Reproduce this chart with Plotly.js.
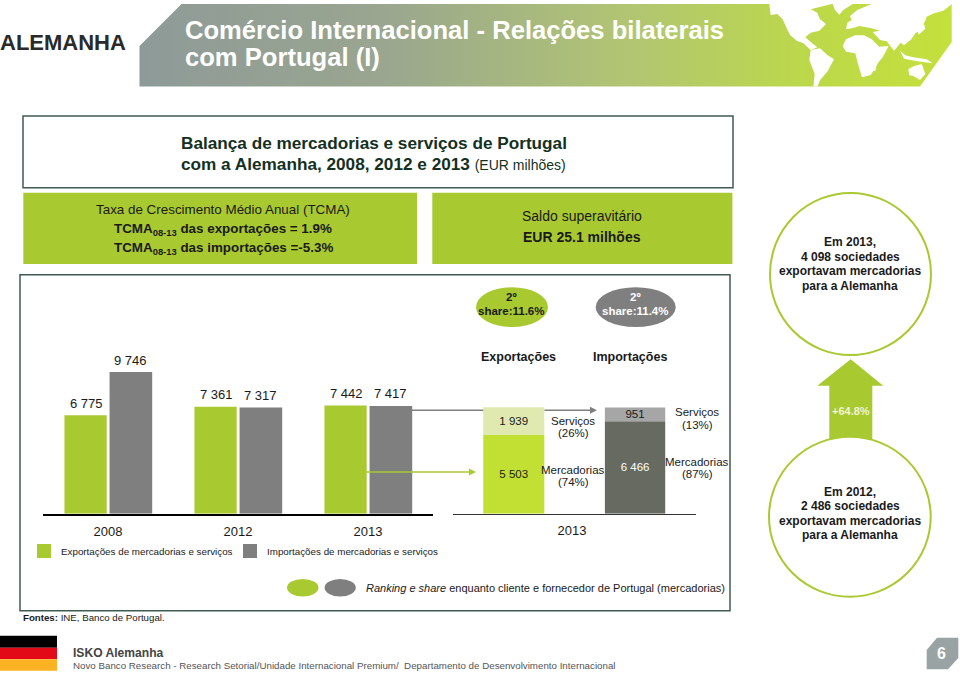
<!DOCTYPE html>
<html><head><meta charset="utf-8">
<script src="https://cdn.plot.ly/plotly-3.0.1.min.js"></script>
<style>html,body{margin:0;padding:0;background:#fff}#chart{width:960px;height:673px}</style>
</head><body><div id="chart"></div>
<script>
// ---- data ----
var years = ['2008', '2012', '2013'];
var exportsTotal = [6775, 7361, 7442];
var importsTotal = [9746, 7317, 7417];
var exportsLabels = ['6 775', '7 361', '7 442'];
var importsLabels = ['9 746', '7 317', '7 417'];
var splitCategories = ['Exportações', 'Importações'];
var goods = [5503, 6466];
var services = [1939, 951];
var goodsLabels = ['5 503', '6 466'];
var servicesLabels = ['1 939', '951'];

// ---- colours ----
var GREEN = '#a9c931', GREY = '#7f7f7f', BOX = '#3f5b52';
var FONT = '"Liberation Sans", Arial, sans-serif';

var X = function (p) { return p / 960; };
var Y = function (p) { return 1 - p / 673; };
var BASE = 513.7, TOP = 368.4;

// ---- banner picture (gradient + world map decoration) ----
function pts(list) { return list.map(function (p) { return (740 + p[0] / 3).toFixed(1) + ',' + (p[1] / 3).toFixed(1); }).join(' '); }
var land = [
  [[88,12],[92,45],[112,42],[128,58],[138,80],[150,105],[170,122],[190,130],[212,150],[232,142],[208,122],[196,112],[212,98],[238,92],[258,72],[240,58],[232,38],[212,28],[275,12]],
  [[278,12],[338,12],[310,30],[298,44],[285,30]],
  [[212,150],[240,145],[262,165],[282,178],[262,215],[242,238],[232,260],[220,260],[224,222],[208,180]],
  [[318,118],[345,106],[372,106],[395,118],[418,140],[446,138],[428,172],[416,186],[392,225],[366,232],[354,192],[346,160],[318,155],[308,138]],
  [[318,88],[322,68],[335,60],[330,48],[352,30],[395,12],[636,12],[610,32],[582,40],[560,50],[556,62],[540,90],[526,100],[514,118],[492,136],[482,128],[462,152],[440,124],[420,120],[398,96],[420,92],[392,84],[358,78],[340,84]],
  [[505,208],[522,198],[545,192],[556,222],[540,240],[520,228],[508,226]],
  [[480,152],[496,166],[520,172],[560,178],[578,190],[532,184],[492,176]],
  [[398,196],[411,188],[406,214],[398,212]],
  [[530,85],[552,72],[556,86],[536,104]]
];
var svg = '<svg xmlns="http://www.w3.org/2000/svg" width="960" height="673" viewBox="0 0 960 673">' +
  '<defs><linearGradient id="g" gradientUnits="userSpaceOnUse" x1="140" y1="0" x2="952" y2="0">' +
  '<stop offset="0" stop-color="#8e9a98"/><stop offset="0.3" stop-color="#9aa68f"/><stop offset="0.6" stop-color="#b1c573"/>' +
  '<stop offset="0.82" stop-color="#bcd84a"/><stop offset="1" stop-color="#c4e03c"/></linearGradient>' +
  '<clipPath id="c"><polygon points="139.5,86.5 139.5,46 181.5,4 951.7,4 951.7,42 920,86.5"/></clipPath></defs>' +
  '<polygon points="139.5,86.5 139.5,46 181.5,4 951.7,4 951.7,42 920,86.5" fill="url(#g)"/>' +
  '<g clip-path="url(#c)" fill="#ffffff">' + land.map(function (l) { return '<polygon points="' + pts(l) + '"/>'; }).join('') + '</g></svg>';

// ---- helpers for decoration ----
function rect(x0, y0, x1, y1, fill, line, w) {
  return { type: 'rect', xref: 'paper', yref: 'paper', x0: X(x0), x1: X(x1), y0: Y(y0), y1: Y(y1),
    fillcolor: fill || 'rgba(0,0,0,0)', line: { color: line || 'rgba(0,0,0,0)', width: line ? (w || 1) : 0 }, layer: 'below' };
}
function oval(x0, y0, x1, y1, fill, line, w) {
  var s = rect(x0, y0, x1, y1, fill, line, w); s.type = 'circle'; return s;
}
function poly(list, fill, layer) {
  var d = list.map(function (p, i) { return (i ? 'L' : 'M') + X(p[0]) + ',' + Y(p[1]); }).join(' ') + ' Z';
  return { type: 'path', xref: 'paper', yref: 'paper', path: d, fillcolor: fill, line: { width: 0 }, layer: layer || 'below' };
}
function seg(x0, y, x1, color) {
  return { type: 'line', xref: 'paper', yref: 'paper', x0: X(x0), x1: X(x1), y0: Y(y), y1: Y(y), line: { color: color, width: 1.5 }, layer: 'above' };
}
function txt(s, x, y, size, opt) {
  opt = opt || {};
  return { xref: 'paper', yref: 'paper', x: X(opt.a === 'left' ? x - 1 : x), y: Y(y), text: s, showarrow: false, xanchor: opt.a || 'center', yanchor: 'middle',
    font: { family: FONT, size: size, color: opt.c || '#1a1a1a' }, borderpad: 0 };
}

var shapes = [
  rect(23, 116, 733, 187.7, '#ffffff', BOX, 1.5),
  rect(23.3, 192.7, 417, 264, GREEN),
  rect(432.3, 192.7, 732.4, 264, GREEN),
  rect(20, 274.7, 730, 610.7, '#ffffff', BOX, 1.5),
  oval(476, 287.3, 548, 327, GREEN),
  oval(595.7, 287.3, 675.7, 327, GREY),
  oval(770, 193, 931, 355, '#ffffff', GREEN, 2),
  poly([[850.7, 359.3], [883.3, 385.7], [872.3, 385.7], [872.3, 445], [829.3, 445], [829.3, 385.7], [817.3, 385.7]], GREEN),
  oval(769, 436.7, 930.7, 596.7, '#ffffff', GREEN, 2),
  rect(37, 544, 51, 558, GREEN),
  rect(243, 544, 257, 558, GREY),
  oval(287, 579, 318.5, 596.5, GREEN),
  oval(324.6, 579, 355.8, 596.5, GREY),
  rect(0, 635.7, 57, 647.7, '#000000'),
  rect(0, 647.7, 57, 659.3, '#e30a17'),
  rect(0, 659.3, 57, 670.7, '#fbb324'),
  poly([[926.7, 650], [937, 637.7], [958.3, 637.7], [958.3, 658], [948, 669.3], [926.7, 669.3]], '#9aa3a3'),
  seg(411.3, 410.3, 483.3, GREY),
  seg(544.5, 410.3, 592, GREY),
  poly([[590, 406.8], [597, 410.3], [590, 413.8]], GREY, 'above'),
  seg(366, 472, 471, GREEN),
  poly([[469, 468.5], [476, 472], [469, 475.5]], GREEN, 'above')
];

var annotations = [
  txt('<b>ALEMANHA</b>', 0, 42, 22, { a: 'left', c: '#2a2a2a' }),
  txt('<b>Comércio Internacional - Relações bilaterais</b>', 185, 30, 25.6, { a: 'left', c: '#ffffff' }),
  txt('<b>com Portugal (I)</b>', 185, 57, 25.6, { a: 'left', c: '#ffffff' }),
  txt('<b>Balança de mercadorias e serviços de Portugal</b>', 181, 143, 17.2, { a: 'left', c: '#14301f' }),
  txt('<b>com a Alemanha, 2008, 2012 e 2013</b> <span style="font-size:14px">(EUR milhões)</span>', 181, 164, 17.2, { a: 'left', c: '#14301f' }),
  txt('Taxa de Crescimento Médio Anual (TCMA)', 223, 209, 13.4),
  txt('<b>TCMA<sub>08-13</sub> das exportações = 1.9%</b>', 223, 229, 13.4),
  txt('<b>TCMA<sub>08-13</sub> das importações =-5.3%</b>', 223, 248, 13.4),
  txt('Saldo superavitário', 582, 216, 14),
  txt('<b>EUR 25.1 milhões</b>', 582, 237, 14),
  txt('<b>2º</b>', 511, 297, 11.5),
  txt('<b>share:11.6%</b>', 511, 311, 11.5),
  txt('<b>2º</b>', 635, 297, 11.5, { c: '#ffffff' }),
  txt('<b>share:11.4%</b>', 635, 311, 11.5, { c: '#ffffff' }),
  txt('<b>Em 2013,</b>', 850, 242, 12),
  txt('<b>4 098 sociedades</b>', 850, 257, 12),
  txt('<b>exportavam mercadorias</b>', 850, 271, 12),
  txt('<b>para a Alemanha</b>', 850, 286, 12),
  txt('<b>Em 2012,</b>', 850, 492, 12),
  txt('<b>2 486 sociedades</b>', 850, 506, 12),
  txt('<b>exportavam mercadorias</b>', 850, 521, 12),
  txt('<b>para a Alemanha</b>', 850, 535, 12),
  txt('<b>+64.8%</b>', 850.7, 411, 11, { c: '#f0f5d0' }),
  txt('<b>Exportações</b>', 518, 357, 12.5),
  txt('<b>Importações</b>', 630, 357, 12.5),
  txt('Serviços', 573, 421, 11.5),
  txt('(26%)', 573, 433, 11.5),
  txt('Serviços', 697, 412, 11.5),
  txt('(13%)', 697, 425, 11.5),
  txt('Mercadorias', 573, 470, 11.5),
  txt('(74%)', 573, 482, 11.5),
  txt('Mercadorias', 697, 462, 11.5),
  txt('(87%)', 697, 474, 11.5),
  txt('Exportações de mercadorias e serviços', 61, 551, 9.8, { a: 'left' }),
  txt('Importações de mercadorias e serviços', 267, 551, 9.8, { a: 'left' }),
  txt('<i>Ranking e share</i> enquanto cliente e fornecedor de Portugal (mercadorias)', 366, 588, 11, { a: 'left' }),
  txt('<b>Fontes:</b> INE, Banco de Portugal.', 23, 617, 9.7, { a: 'left' }),
  txt('<b>ISKO Alemanha</b>', 73, 653, 12.1, { a: 'left', c: '#444444' }),
  txt('Novo Banco Research - Research Setorial/Unidade Internacional Premium/  Departamento de Desenvolvimento Internacional', 73, 665, 9.75, { a: 'left', c: '#555555' }),
  txt('<b>6</b>', 941, 653, 16, { c: '#ffffff' })
];

// value labels above the left-hand bars, anchored to the data (x = category index)
years.forEach(function (yr, i) {
  [[exportsTotal, exportsLabels, -22], [importsTotal, importsLabels, 22]].forEach(function (s) {
    annotations.push({ xref: 'x', yref: 'y', x: i, y: s[0][i], text: s[1][i], showarrow: false, xanchor: 'center', yanchor: 'middle',
      xshift: s[2], yshift: 12, font: { family: FONT, size: 13, color: '#1a1a1a' } });
  });
});

function bar(name, x, y, color, o) {
  return Object.assign({ type: 'bar', name: name, x: x, y: y, marker: { color: color, line: { width: 0 } }, hoverinfo: 'x+y', showlegend: false }, o);
}
var inner = function (c) { return { family: FONT, size: 11.5, color: c }; };
var traces = [
  bar('Exportações de mercadorias e serviços', years, exportsTotal, GREEN, { offset: -0.335, width: 0.325 }),
  bar('Importações de mercadorias e serviços', years, importsTotal, GREY, { offset: 0.012, width: 0.328 }),
  bar('Mercadorias', [splitCategories[0]], [goods[0]], '#c2e034', { xaxis: 'x2', yaxis: 'y2', offset: -0.252, width: 0.504, text: [goodsLabels[0]], textposition: 'inside', insidetextanchor: 'middle', textangle: 0, constraintext: 'none', insidetextfont: inner('#1a1a1a') }),
  bar('Serviços', [splitCategories[0]], [services[0]], '#dfe9b0', { xaxis: 'x2', yaxis: 'y2', base: [goods[0]], offset: -0.252, width: 0.504, text: [servicesLabels[0]], textposition: 'inside', insidetextanchor: 'middle', textangle: 0, constraintext: 'none', insidetextfont: inner('#1a1a1a') }),
  bar('Mercadorias', [splitCategories[1]], [goods[1]], '#666a60', { xaxis: 'x2', yaxis: 'y2', offset: -0.248, width: 0.498, text: [goodsLabels[1]], textposition: 'inside', insidetextanchor: 'middle', textangle: 0, constraintext: 'none', insidetextfont: inner('#ffffff') }),
  bar('Serviços', [splitCategories[1]], [services[1]], '#a6a6a6', { xaxis: 'x2', yaxis: 'y2', base: [goods[1]], offset: -0.248, width: 0.498, text: [servicesLabels[1]], textposition: 'inside', insidetextanchor: 'middle', textangle: 0, constraintext: 'none', insidetextfont: inner('#1a1a1a') })
];

var axisFont = { family: FONT, size: 13, color: '#1a1a1a' };
var layout = {
  width: 960, height: 673, margin: { l: 0, r: 0, t: 0, b: 0, pad: 0 },
  paper_bgcolor: '#ffffff', plot_bgcolor: 'rgba(0,0,0,0)', barmode: 'overlay', showlegend: false, font: { family: FONT },
  xaxis: { type: 'category', domain: [X(43), X(433)], range: [-0.5, 2.5], anchor: 'y', categoryorder: 'array', categoryarray: years, showline: true, linewidth: 2, linecolor: '#000000', ticks: '', ticklabelstandoff: 5, showgrid: false, zeroline: false, tickfont: axisFont, fixedrange: true },
  yaxis: { domain: [Y(BASE), Y(TOP)], range: [0, 10000], anchor: 'x', visible: false, fixedrange: true },
  xaxis2: { type: 'category', domain: [X(452.7), X(696)], range: [-0.504, 1.504], anchor: 'y2', categoryorder: 'array', categoryarray: splitCategories, showline: true, linewidth: 1, linecolor: '#333333', ticks: '', ticklabelstandoff: 5, showgrid: false, zeroline: false, tickmode: 'array', tickvals: [0.48], ticktext: ['2013'], tickfont: axisFont, fixedrange: true },
  yaxis2: { domain: [Y(BASE), Y(TOP)], range: [0, 10150], anchor: 'x2', visible: false, fixedrange: true },
  shapes: shapes, annotations: annotations,
  images: [{ source: 'data:image/svg+xml,' + encodeURIComponent(svg), xref: 'paper', yref: 'paper', x: 0, y: 1, sizex: 1, sizey: 1, xanchor: 'left', yanchor: 'top', sizing: 'stretch', layer: 'below' }]
};
Plotly.newPlot('chart', traces, layout, { displayModeBar: false, staticPlot: true });
</script></body></html>
